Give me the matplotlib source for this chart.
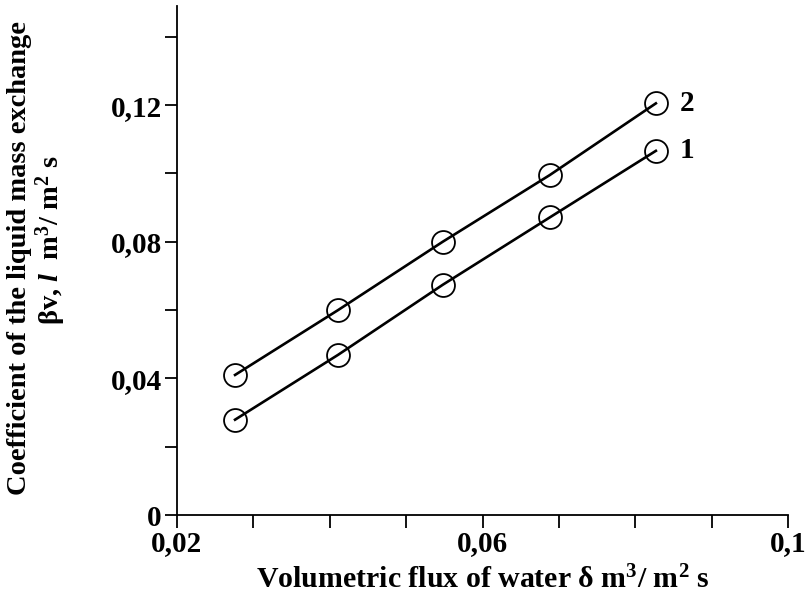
import matplotlib.pyplot as plt
import numpy as np

# data
flux = [0.0276, 0.0411, 0.0548, 0.0688, 0.0827]
beta_1 = [0.0279, 0.0469, 0.0674, 0.0871, 0.1066]
beta_2 = [0.0410, 0.0600, 0.0800, 0.0995, 0.1205]
curve_names = ["1", "2"]

plt.rcParams["font.family"] = ["Liberation Serif", "DejaVu Serif"]
plt.rcParams["font.weight"] = "bold"
plt.rcParams["mathtext.fontset"] = "custom"
plt.rcParams["mathtext.rm"] = "Liberation Serif:bold"
plt.rcParams["mathtext.bf"] = "Liberation Serif:bold"
plt.rcParams["mathtext.it"] = "Liberation Serif:italic:bold"

fig = plt.figure(figsize=(8.08, 5.99), dpi=100)
ax = fig.add_axes([177 / 808, 1 - 515 / 599, (788 - 177) / 808, (515 - 6) / 599])

for ys, name in zip([beta_1, beta_2], curve_names):
    ax.plot(flux, ys, color="black", lw=1.9, marker="o", ms=16.5,
            mfc="none", mec="black", mew=1.3)
    ax.annotate(name, (flux[-1], ys[-1]), xytext=(17, 0), textcoords="offset points",
                va="center", ha="left", fontsize=21, fontweight="bold")

ax.set_xlim(0.02, 0.1)
ax.set_ylim(0, 0.149)
ax.set_xticks(np.arange(0.02, 0.1001, 0.01))
ax.set_xticklabels(["0,02", "", "", "", "0,06", "", "", "", "0,1"])
ax.set_yticks(np.arange(0, 0.1401, 0.02))
ax.set_yticklabels(["0", "", "0,04", "", "0,08", "", "0,12", ""])
ax.tick_params(direction="out", length=9, width=1.3, labelsize=21, pad=2)
for lbl in ax.get_xticklabels() + ax.get_yticklabels():
    lbl.set_fontweight("bold")

ax.spines["top"].set_visible(False)
ax.spines["right"].set_visible(False)
ax.spines["left"].set_linewidth(1.3)
ax.spines["bottom"].set_linewidth(1.3)

ax.set_xlabel(r"Volumetric flux of water δ m$^{3}$/ m$^{2}$ s", fontsize=21.5,
              fontweight="bold", labelpad=6)
fig.text(20 / 808, 1 - 258 / 599, "Coefficient of the liquid mass exchange", rotation=90,
         ha="center", va="center", fontsize=20.5, fontweight="bold")
fig.text(51 / 808, 1 - 240 / 599, r"βv, $\mathit{l}$  m$^{3}$/ m$^{2}$ s", rotation=90,
         ha="center", va="center", fontsize=20.5, fontweight="bold")

fig.savefig("out.png", dpi=100)
